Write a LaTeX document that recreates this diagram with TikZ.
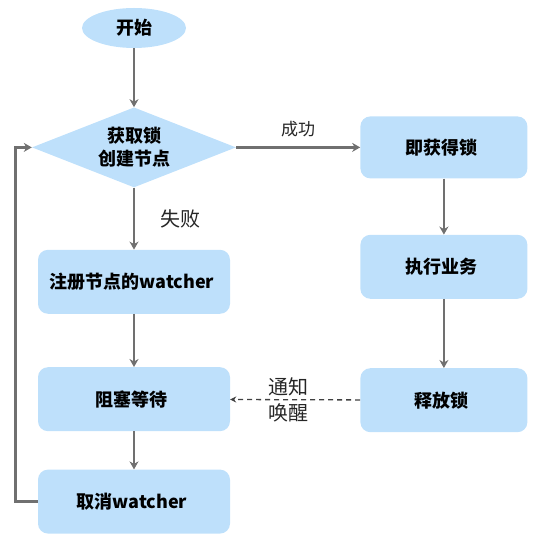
\documentclass[tikz,border=0pt]{standalone}
\usepackage{fontspec}
\setmainfont{Noto Sans CJK SC}
\usetikzlibrary{shapes.geometric, positioning, arrows.meta}
\definecolor{boxblue}{RGB}{190,224,251}
\definecolor{linegray}{RGB}{112,112,112}

\begin{document}
\begin{tikzpicture}[x=1pt, y=1pt,
    process/.style={rectangle,
      rounded corners=10pt,
      fill=boxblue,
      minimum width=192pt,
      minimum height=64pt,
      inner sep=0pt,
      align=center,
      font=\fontsize{18}{23}\selectfont\bfseries},
    decision/.style={diamond,
      fill=boxblue,
      aspect=2.55,
      minimum width=204pt,
      minimum height=80pt,
      inner sep=0pt,
      align=center,
      font=\fontsize{18}{23}\selectfont\bfseries},
    terminal/.style={ellipse,
      fill=boxblue,
      minimum width=104pt,
      minimum height=40pt,
      inner sep=0pt,
      font=\fontsize{18}{23}\selectfont\bfseries},
    flow/.style={draw=linegray,
      line width=2.7pt,
      -{Stealth[length=8pt,width=9pt,inset=2.5pt]}},
    notify/.style={draw=black!75,
      line width=1.3pt,
      dash pattern=on 5pt off 4pt,
      -{Stealth[length=6pt,width=6pt]}},
    lbl/.style={font=\fontsize{17}{26}\selectfont,
      text=black!85,
      align=center}]

  \useasboundingbox (0,0) rectangle (537,546);

  % NODES

  \node[terminal] (start) at (134,518) {开始};

  \node[decision,
    below=59pt of start] (lock) {
    获取锁\\创建节点
  };

  \node[process,
    minimum width=167pt,
    minimum height=62pt,
    right=124pt of lock] (acquired) {
    即获得锁
  };

  \node[process,
    minimum width=167pt,
    below=56pt of acquired] (execute) {
    执行业务
  };

  \node[process,
    minimum width=167pt,
    below=69pt of execute] (release) {
    释放锁
  };

  \node[process,
    below=62pt of lock] (register) {
    注册节点的watcher
  };

  \node[process,
    below=53pt of register] (block) {
    阻塞等待
  };

  \node[process,
    below=38pt of block] (cancel) {
    取消watcher
  };

  % CONNECTORS

  \draw[flow] (start) -- (lock);
  \draw[flow] (lock) -- node[lbl, above=6pt] (successlabel) {成功} (acquired);
  \draw[flow] (lock) -- node[lbl, right=22pt, font=\fontsize{20}{24}\selectfont] (faillabel) {失败} (register);
  \draw[flow] (acquired) -- (execute);
  \draw[flow] (execute) -- (release);
  \draw[flow] (register) -- (block);
  \draw[flow] (block) -- (cancel);
  \draw[notify] (release) -- node[lbl, pos=0.55, font=\fontsize{20}{26}\selectfont] (notifylabel) {通知\\唤醒} (block);
  \draw[flow] (cancel.west) -- ++(-22,0) |- (lock.west);

\end{tikzpicture}
\end{document}
